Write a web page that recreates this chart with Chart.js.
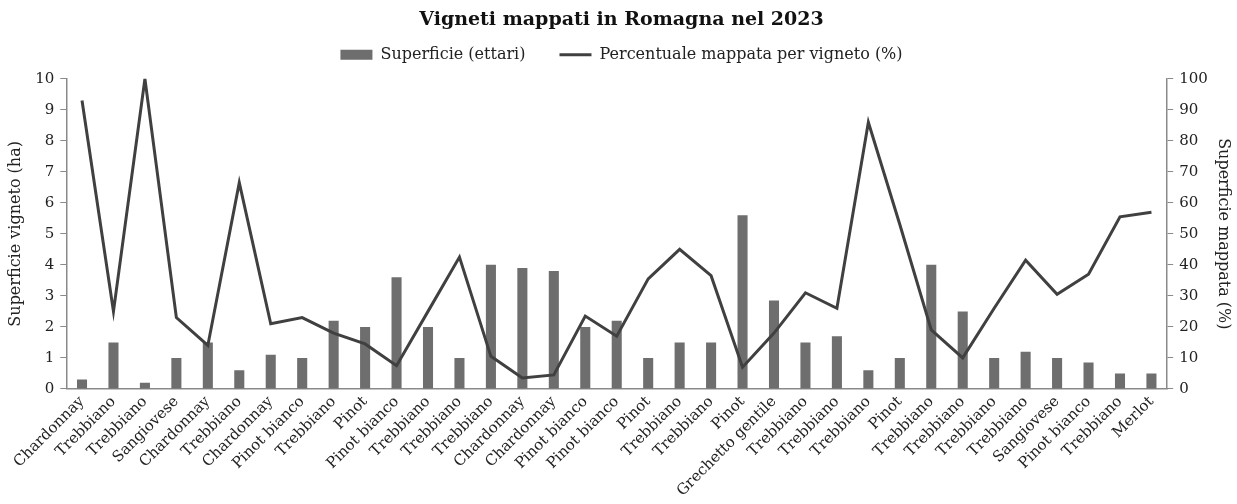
<!DOCTYPE html>
<html>
<head>
<meta charset="utf-8">
<script src="https://cdn.jsdelivr.net/npm/chart.js@4"></script>
<style>
html,body{margin:0;padding:0;background:#fff;}
#wrap{width:1237px;height:504px;}
</style>
</head>
<body>
<div id="wrap"><canvas id="c" width="1237" height="504"></canvas></div>
<script>
const categories = ["Chardonnay","Trebbiano","Trebbiano","Sangiovese","Chardonnay","Trebbiano","Chardonnay","Pinot bianco","Trebbiano","Pinot","Pinot bianco","Trebbiano","Trebbiano","Trebbiano","Chardonnay","Chardonnay","Pinot bianco","Pinot bianco","Pinot","Trebbiano","Trebbiano","Pinot","Grechetto gentile","Trebbiano","Trebbiano","Trebbiano","Pinot","Trebbiano","Trebbiano","Trebbiano","Trebbiano","Sangiovese","Pinot bianco","Trebbiano","Merlot"];
const superficie = [0.3,1.5,0.2,1.0,1.5,0.6,1.1,1.0,2.2,2.0,3.6,2.0,1.0,4.0,3.9,3.8,2.0,2.2,1.0,1.5,1.5,5.6,2.85,1.5,1.7,0.6,1.0,4.0,2.5,1.0,1.2,1.0,0.85,0.5,0.5];
const percentuale = [93,25,100,23,14,66.5,21,23,18,14.5,7.5,25,42.5,10.5,3.5,4.5,23.5,17,35.5,45,36.5,7,18,31,26,86,53,19,10,26,41.5,30.5,37,55.5,57];
const leftTicks = [0,1,2,3,4,5,6,7,8,9,10];
const rightTicks = [0,10,20,30,40,50,60,70,80,90,100];

const FONT = "'DejaVu Serif', serif";
const axisColor = '#8a8a8a';
const barColor = '#6e6e6e';
const lineColor = '#404040';

const legendSpacer = {
  id: 'legendSpacer',
  afterInit(chart) {
    const lg = chart.legend;
    if (lg && !lg._patched) {
      const orig = lg.fit;
      lg.fit = function() { orig.call(this); this.height += 6; };
      lg._patched = true;
    }
  }
};

new Chart(document.getElementById('c'), {
  data: {
    labels: categories,
    datasets: [
      {
        type: 'bar',
        label: 'Superficie (ettari)',
        data: superficie,
        yAxisID: 'y',
        backgroundColor: barColor,
        borderWidth: 0,
        barPercentage: 0.32,
        categoryPercentage: 1.0,
        order: 2
      },
      {
        type: 'line',
        label: 'Percentuale mappata per vigneto (%)',
        data: percentuale,
        yAxisID: 'y1',
        borderColor: lineColor,
        backgroundColor: lineColor,
        borderWidth: 3,
        pointRadius: 0,
        tension: 0,
        order: 1
      }
    ]
  },
  plugins: [legendSpacer],
  options: {
    responsive: false,
    animation: false,
    layout: { padding: { left: 6, right: 0, top: 0, bottom: 0 } },
    plugins: {
      title: {
        display: true,
        text: 'Vigneti mappati in Romagna nel 2023',
        font: { family: FONT, size: 19, weight: 'bold' },
        color: '#111',
        padding: { top: 9, bottom: 5 }
      },
      legend: {
        position: 'top',
        labels: {
          font: { family: FONT, size: 16 },
          color: '#222',
          usePointStyle: true,
          pointStyleWidth: 32,
          boxHeight: 10,
          padding: 10,
          generateLabels: function(chart) {
            const items = Chart.defaults.plugins.legend.labels.generateLabels(chart);
            items.sort((a, b) => a.datasetIndex - b.datasetIndex);
            items.forEach((it) => {
              if (it.datasetIndex === 0) {
                it.pointStyle = 'rect'; it.lineWidth = 0; it.fillStyle = barColor; it.strokeStyle = barColor;
                it.text = it.text + '\u2002\u2002\u2002';
              } else {
                it.pointStyle = 'line'; it.lineWidth = 3; it.strokeStyle = lineColor; it.fillStyle = lineColor;
              }
            });
            return items;
          }
        }
      },
      tooltip: { enabled: false }
    },
    scales: {
      x: {
        offset: true,
        grid: { display: false, drawTicks: false },
        border: { color: axisColor, width: 1.5 },
        ticks: {
          autoSkip: false,
          maxRotation: 45,
          minRotation: 45,
          font: { family: FONT, size: 15 },
          color: '#222',
          padding: 4
        }
      },
      y: {
        position: 'left',
        min: 0, max: 10,
        afterBuildTicks: (s) => { s.ticks = leftTicks.map(v => ({ value: v })); },
        grid: { drawOnChartArea: false, drawTicks: true, tickLength: 6, color: axisColor },
        border: { color: axisColor, width: 1.5 },
        ticks: { font: { family: FONT, size: 15 }, color: '#222', padding: 6 },
        title: { display: true, text: 'Superficie vigneto (ha)', font: { family: FONT, size: 16 }, color: '#222', padding: { top: 0, bottom: 4 } }
      },
      y1: {
        position: 'right',
        min: 0, max: 100,
        afterBuildTicks: (s) => { s.ticks = rightTicks.map(v => ({ value: v })); },
        grid: { drawOnChartArea: false, drawTicks: true, tickLength: 6, color: axisColor },
        border: { color: axisColor, width: 1.5 },
        ticks: { font: { family: FONT, size: 15 }, color: '#222', padding: 6 },
        title: { display: true, text: 'Superficie mappata (%)', font: { family: FONT, size: 16 }, color: '#222', padding: { top: 4, bottom: 0 } }
      }
    }
  }
});
</script>
</body>
</html>
